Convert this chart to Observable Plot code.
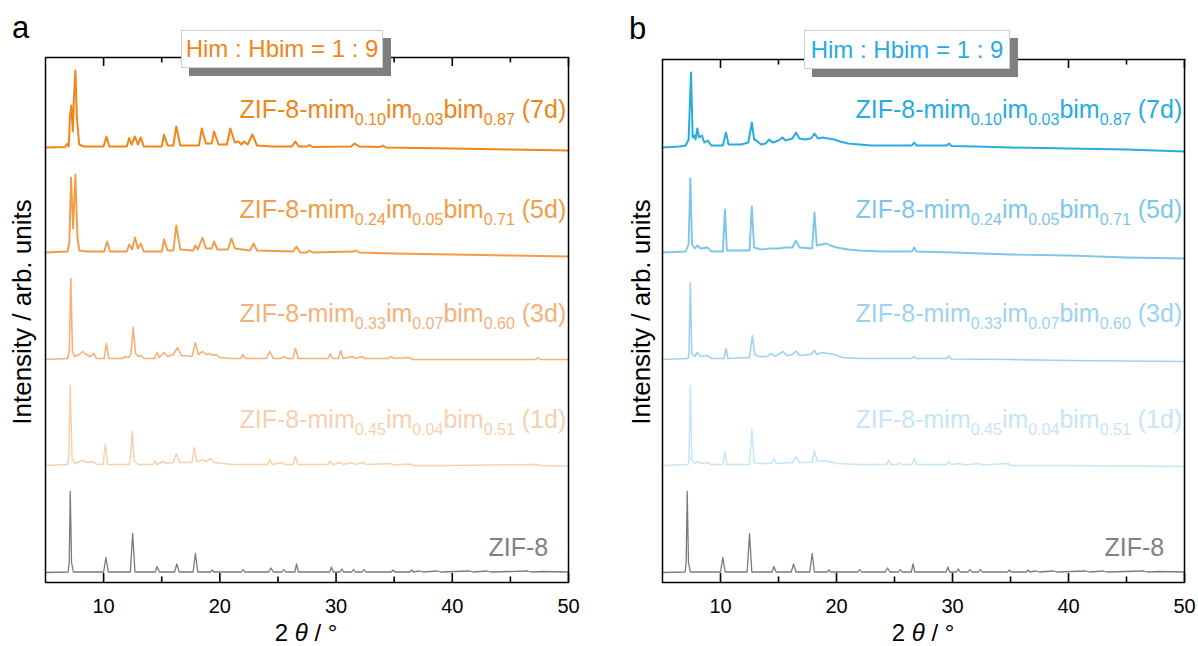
<!DOCTYPE html>
<html>
<head>
<meta charset="utf-8">
<script src="https://cdn.jsdelivr.net/npm/d3@7"></script>
<script src="https://cdn.jsdelivr.net/npm/@observablehq/plot@0.6"></script>
<style>
  html, body { margin: 0; padding: 0; background: #fff; }
  body { font-family: "Liberation Sans", Arial, sans-serif; }
  #wrap { position: relative; width: 1198px; height: 646px; overflow: hidden; background: #fff; }
  .plab { position: absolute; font-size: 31px; line-height: 31px; color: #000; }
  .box { position: absolute; box-sizing: border-box; background: #fff; border: 1px solid #cfcfcf;
         box-shadow: 8px 8px 0 #7f7f7f; font-size: 24px; text-align: center; white-space: nowrap; }
  .xt { position: absolute; width: 200px; font-size: 24px; line-height: 30px; text-align: center; color: #000; white-space: nowrap; }
  .yt { position: absolute; width: 400px; height: 30px; font-size: 26px; line-height: 30px; text-align: center;
        color: #000; white-space: nowrap; transform: rotate(-90deg); }
</style>
</head>
<body>
<div id="wrap"></div>
<script>
// ---------------- data ----------------
const xTicks = [10, 20, 30, 40, 50];
const xMinorTicks = [15, 25, 35, 45];
const seriesOrder = ["ZIF-8", "1d", "3d", "5d", "7d"];      // bottom -> top
const mimFrac = ["0.45", "0.33", "0.24", "0.10"];            // 1d, 3d, 5d, 7d
const imFrac  = ["0.04", "0.07", "0.05", "0.03"];
const bimFrac = ["0.51", "0.60", "0.71", "0.87"];
const offsets = [10, 117, 223, 330, 435];                    // stacking offsets (arb. units)
const labelLevels = [26, 154, 260, 364, 464];                // label baselines (arb. units)
const titleText = "Him : Hbim = 1 : 9";
const colorsA = ["#7b7b7b", "#f9d0ae", "#f6b17b", "#f39c48", "#f08519"];
const colorsB = ["#7b7b7b", "#c6e5f5", "#9dd3ef", "#7dc6ea", "#29abe2"];
const widths = [1.3, 1.5, 1.6, 1.9, 2.0];

// 2θ (deg), intensity above each trace's own baseline
const zif8 = [[5,0],[6.95,0.5],[7.04,10],[7.13,81],[7.24,10],[7.4,0.5],[10.0,0.5],[10.2,15],[10.4,0.5],[12.3,0.5],[12.5,39],[12.7,0.5],
  [14.45,0.5],[14.6,6],[14.8,0.5],[16.1,0.5],[16.3,8.5],[16.5,0.5],[17.7,0.5],[17.9,19],[18.1,0.5],[19.2,0.5],[19.35,2.5],[19.5,0.5],
  [21.85,0.5],[22.0,3],[22.15,0.5],[24.2,0.5],[24.4,4.5],[24.6,0.5],[25.35,0.5],[25.5,3],[25.65,0.5],[26.45,0.5],[26.6,8.5],[26.75,0.5],
  [29.45,0.5],[29.6,5.5],[29.75,0.5],[30.35,0.5],[30.5,3.5],[30.65,0.5],[31.35,0.5],[31.5,3],[31.65,0.5],[32.25,0.5],[32.4,3],[32.55,0.5],
  [34.75,0.5],[34.9,2.5],[35.05,0.5],[36.35,0.5],[36.5,2.5],[36.65,0.5],[37.2,1.5],[37.5,0.5],[38.7,1.5],[39,0.5],[41.5,1.5],[41.8,0.5],
  [43,1.5],[43.3,0.5],[46.5,1.5],[46.8,0.5],[47.8,1],[50,0.5]];

const a1d = [[5,0],[6.9,1],[7.0,8],[7.13,80],[7.28,8],[7.5,2],[8.2,5],[8.6,3],[9.1,4],[9.4,1],[9.95,1],[10.15,21],[10.35,1],
  [12.2,1],[12.3,6],[12.46,34],[12.65,4],[13.0,1],[14.25,1],[14.4,4.5],[14.6,1],[15.1,4],[15.4,2],[16.0,3],[16.25,12],[16.55,3],
  [17.6,3],[17.8,18],[18.0,4],[18.5,6],[18.8,4],[19.2,7],[19.5,3],[20.3,2],[21,1],[24.1,1],[24.3,6],[24.5,1],[25.4,3],[25.6,1],
  [26.3,1],[26.5,9],[26.7,1],[29.3,1],[29.5,4.5],[29.7,1],[30.4,3],[30.6,1],[31.4,3],[31.6,1],[32.4,3],[32.6,1],[34.7,2],[35,0.5],
  [36.3,1.5],[36.6,0],[40,0],[47.4,1],[47.6,0],[50,-0.5]];

const a3d = [[5,0],[6.9,1],[7.05,8],[7.18,81],[7.32,8],[7.5,3],[7.9,5],[8.2,8],[8.5,5],[8.9,3],[9.15,6],[9.4,1],[10.05,1],[10.24,16],[10.45,1],
  [11.6,1],[11.9,3],[12.2,2],[12.35,6],[12.55,32],[12.75,6],[13.0,3],[13.2,4],[13.5,1],[14.4,1],[14.6,7],[14.8,2],[15.2,7],[15.5,3],
  [16.0,5],[16.35,12],[16.7,4],[17.6,3],[17.9,17],[18.15,5],[18.5,8],[18.8,5],[19.1,6],[19.4,4],[19.7,5],[20.0,2],[21.0,1],[21.8,1],
  [21.95,5],[22.2,1],[24.0,1],[24.3,8],[24.6,1],[25.3,1],[25.5,3],[25.8,1],[26.3,1],[26.5,11],[26.75,1],[29.3,1],[29.5,6],[29.7,1],
  [30.2,1],[30.4,9],[30.6,1],[31.4,3],[31.7,1],[32.2,3],[32.5,1],[34.5,1],[34.7,3],[35,1],[36.3,2],[36.6,0],[40,0],[47.2,0],[47.4,2],[47.6,0],[50,0]];

const a5d = [[5,0],[6.9,1],[7.05,10],[7.2,75],[7.38,24],[7.57,78],[7.75,15],[7.9,2],[8.5,1],[10.05,1],[10.3,11],[10.55,1],[12.0,1],
  [12.2,8],[12.45,3],[12.7,15],[12.95,4],[13.2,9],[13.45,1],[15.0,1],[15.2,13],[15.5,2],[16.0,2],[16.25,27],[16.6,3],[17.7,2],
  [17.9,7],[18.1,3],[18.5,15],[18.8,4],[19.3,4],[19.5,11],[19.8,3],[20.7,3],[21.0,14],[21.3,4],[22.6,2],[22.9,9],[23.2,2],[26.3,1],
  [26.6,6],[26.9,0],[27.5,0],[27.7,2],[28,0],[31.5,1],[31.7,2],[32,0],[35,-1],[40,-2],[45,-3],[50,-4]];

const a7d = [[5,0],[6.7,0.5],[6.9,4],[7.0,1],[7.1,30],[7.22,42],[7.35,16],[7.45,50],[7.57,77],[7.7,30],[7.9,3],[8.3,1],[10.0,1],
  [10.24,11],[10.5,1],[12.0,1],[12.2,9.5],[12.4,3],[12.7,11],[12.95,3],[13.2,10],[13.45,1],[15.0,1],[15.2,13],[15.5,2],[16.0,2],
  [16.25,21],[16.6,2],[18.2,2],[18.45,19],[18.8,4],[19.3,4],[19.5,16],[19.9,3],[20.6,3],[20.9,19],[21.3,5],[21.6,6],[21.85,3],[22.1,6],
  [22.4,3],[22.8,13],[23.2,2],[24.5,1],[26.2,1],[26.5,6],[26.8,1],[27.5,1],[27.7,2.5],[28,0.5],[31.3,1],[31.6,4],[32,1],[33.8,0.5],
  [34,2],[34.3,0],[40,-1],[45,-2],[50,-3]];

const b1d = [[5,0],[7.2,1],[7.28,6],[7.4,80],[7.52,6],[7.8,2],[8.0,4],[8.4,2],[8.9,3],[9.2,1],[10.2,1],[10.38,14],[10.55,1],[12.5,1],
  [12.7,36],[12.9,3],[13.5,2],[14.4,2],[14.6,7],[14.8,2],[16.2,3],[16.5,9],[16.8,3],[17.9,3],[18.1,15],[18.35,4],[18.8,5],[19.3,4],
  [20,2],[22,1],[24.3,1],[24.5,5],[24.7,1],[25.2,1],[25.4,3],[25.6,1],[26.5,1],[26.7,7],[26.9,1],[29.5,1],[29.7,4],[29.9,1],[30.6,2],
  [31,0.5],[32.3,2],[32.6,0.5],[34.8,2],[35.1,0],[40,0],[50,-1]];

const b3d = [[5,0],[7.2,1],[7.28,6],[7.4,77],[7.52,6],[7.8,3],[8.0,7],[8.3,3],[8.9,4],[9.2,1],[10.3,1],[10.47,11],[10.65,1],[12.5,2],
  [12.75,24],[12.95,5],[13.3,3],[14.0,3],[14.4,6],[14.7,3],[15.4,8],[15.7,4],[16.2,5],[16.5,8.5],[16.8,4],[17.8,5],[18.1,9],[18.3,5],
  [18.7,7],[19.3,6],[19.8,5],[20.5,2],[22,1],[26.5,1],[26.7,3],[26.9,1],[29.5,1],[29.7,3.5],[29.9,0.5],[35,0],[40,-1],[50,-2]];

const b5d = [[5,0],[7.0,1],[7.25,8],[7.4,74],[7.55,8],[7.8,4],[8.0,7],[8.3,4],[8.9,5],[9.2,1],[10.2,1],[10.38,43],[10.55,2],[12.5,2],
  [12.7,46],[12.9,5],[13.5,3],[14.2,4],[15.0,4],[15.6,5],[16.2,5],[16.5,12],[16.8,5],[17.9,4],[18.1,40],[18.3,7],[18.7,8],[19.1,9],
  [19.5,7],[20,5],[21,3],[22,2],[24,1],[26.5,1],[26.7,5],[26.9,1],[30,0],[35,-2],[40,-3],[45,-5],[50,-6]];

const b7d = [[5,0],[6.5,1],[7.0,2],[7.25,8],[7.46,75],[7.6,10],[7.75,12],[7.85,8],[8.0,19],[8.15,10],[8.4,12],[8.6,5],[8.9,7],[9.2,2],
  [10.2,2],[10.47,15],[10.7,3],[11.8,3],[12.4,5],[12.7,25],[12.9,8],[13.1,7],[13.5,3],[13.9,4],[14.2,8],[14.5,5],[15.0,7],[15.35,10],
  [15.6,7],[16.2,9],[16.5,15],[16.8,9],[17.3,8],[17.8,9],[18.1,14],[18.4,9],[18.8,10],[19.3,9],[19.8,8],[20.3,6],[21,4],[22,3],[23,2],
  [24,2],[25,2],[26.5,2],[26.7,5],[26.9,2],[28,2],[29.5,2],[29.7,4],[29.9,1.5],[32,1],[35,0],[40,-1],[45,-2],[50,-4]];

const seriesA = [zif8, a1d, a3d, a5d, a7d];
const seriesB = [zif8, b1d, b3d, b5d, b7d];

// ---------------- drawing ----------------
const FONT = "Liberation Sans, Arial, sans-serif";

function labelMark(parts, t, level, color) {
  return (index, scales) => {
    const txt = d3.create("svg:text")
      .attr("x", scales.x(t)).attr("y", scales.y(level))
      .attr("text-anchor", "end").attr("fill", color)
      .attr("font-family", FONT).attr("font-size", 25);
    let shift = 0;
    parts.forEach((p, i) => {
      const sub = i % 2 === 1;
      const target = sub ? 7 : 0;
      txt.append("tspan").attr("dy", target - shift).attr("font-size", sub ? 16 : 25).text(p);
      shift = target;
    });
    return txt.node();
  };
}

function makePanel(series, colors, m) {
  const yMax = 582 - m.top;   // y scale: 1 unit = 1 px
  const marks = [];
  series.forEach((pts, i) => {
    const rows = pts.map(([t, v]) => ({t, v: v + offsets[i]}));
    marks.push(Plot.line(rows, {x: "t", y: "v", stroke: colors[i], strokeWidth: widths[i], curve: "linear", strokeLinejoin: "round"}));
  });
  marks.push(labelMark(["ZIF-8"], 48.3, labelLevels[0], "#808080"));
  for (let k = 0; k < 4; k++) {
    marks.push(labelMark(["ZIF-8-mim", mimFrac[k], "im", imFrac[k], "bim", bimFrac[k], " (" + seriesOrder[k + 1] + ")"],
      49.85, labelLevels[k + 1], colors[k + 1]));
  }
  // inward tick marks (major 9, minor 5.5) on bottom and top edges
  marks.push(Plot.ruleX(xTicks, {y1: 0, y2: 9, stroke: "#000", strokeWidth: 1.6}));
  marks.push(Plot.ruleX(xMinorTicks, {y1: 0, y2: 5.5, stroke: "#000", strokeWidth: 1.6}));
  marks.push(Plot.ruleX(xTicks, {y1: yMax, y2: yMax - 9, stroke: "#000", strokeWidth: 1.6}));
  marks.push(Plot.ruleX(xMinorTicks, {y1: yMax, y2: yMax - 5.5, stroke: "#000", strokeWidth: 1.6}));
  marks.push(Plot.frame({stroke: "#000", strokeWidth: 1.5}));
  marks.push(Plot.axisX(xTicks, {anchor: "bottom", tickSize: 0, tickPadding: 16, label: null, fontSize: 20, fill: "#000"}));
  return Plot.plot({
    width: 599, height: 646,
    marginLeft: m.left, marginRight: m.right, marginTop: m.top, marginBottom: 64,
    x: {domain: [5, 50], label: null},
    y: {domain: [0, yMax], axis: null},
    style: {fontFamily: FONT, fontSize: "20px", background: "transparent", overflow: "visible"},
    marks
  });
}

const wrap = document.getElementById("wrap");
const pa = makePanel(seriesA, colorsA, {left: 45, right: 31, top: 57});
pa.style.position = "absolute"; pa.style.left = "0px"; pa.style.top = "0px";
wrap.appendChild(pa);
const pb = makePanel(seriesB, colorsB, {left: 63, right: 14, top: 59});
pb.style.position = "absolute"; pb.style.left = "599px"; pb.style.top = "0px";
wrap.appendChild(pb);

function addDiv(cls, html, style) {
  const d = document.createElement("div");
  d.className = cls; d.innerHTML = html;
  Object.assign(d.style, style);
  wrap.appendChild(d);
  return d;
}
addDiv("plab", "a", {left: "12px", top: "12px"});
addDiv("plab", "b", {left: "629px", top: "13px"});
addDiv("box", titleText, {left: "181px", top: "30px", width: "202px", height: "38px", lineHeight: "36px", color: colorsA[4]});
addDiv("box", titleText, {left: "804px", top: "30px", width: "206px", height: "39px", lineHeight: "37px", color: colorsB[4]});
addDiv("xt", "2 <i>θ</i> / °", {left: (306 - 100) + "px", top: "618px"});
addDiv("xt", "2 <i>θ</i> / °", {left: (923 - 100) + "px", top: "618px"});
addDiv("yt", "Intensity / arb. units", {left: (22 - 200) + "px", top: (312 - 15) + "px"});
addDiv("yt", "Intensity / arb. units", {left: (641 - 200) + "px", top: (312 - 15) + "px"});
</script>
</body>
</html>
